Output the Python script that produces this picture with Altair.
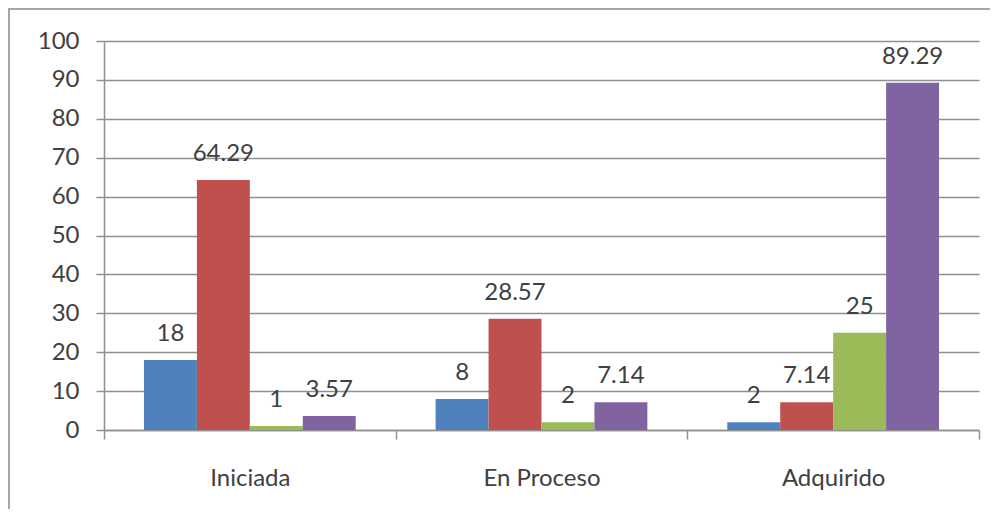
import altair as alt
import pandas as pd

categories = ["Iniciada", "En Proceso", "Adquirido"]
series = ["Serie 1", "Serie 2", "Serie 3", "Serie 4"]
serie1 = [18, 8, 2]
serie2 = [64.29, 28.57, 7.14]
serie3 = [1, 2, 25]
serie4 = [3.57, 7.14, 89.29]
colors = ["#4F81BD", "#C0504D", "#9BBB59", "#8064A2"]
y_ticks = list(range(0, 101, 10))

rows = []
for s, vals in zip(series, [serie1, serie2, serie3, serie4]):
    for c, v in zip(categories, vals):
        rows.append({"categoria": c, "serie": s, "valor": v, "etiqueta": f"{v:g}"})
df = pd.DataFrame(rows)

GRAY = "#909090"
TEXT = "#404040"
FONT = "Lato"
W, H = 875, 389

x_enc = alt.X("categoria:N", sort=categories, title=None,
              scale=alt.Scale(paddingInner=0, paddingOuter=0),
              axis=alt.Axis(labelAngle=0, tickBand="extent", tickSize=9,
                            tickColor=GRAY, domainColor=GRAY, labelPadding=27,
                            tickWidth=1.5, domainWidth=1.5,
                            labelFontSize=24, labelFont=FONT, labelColor=TEXT,
                            grid=False))
xo_enc = alt.XOffset("serie:N", sort=series,
                     scale=alt.Scale(paddingInner=0, paddingOuter=0.755))
y_enc = alt.Y("valor:Q", title=None,
              scale=alt.Scale(domain=[0, 100], nice=False),
              axis=alt.Axis(values=y_ticks, tickSize=8, tickColor=GRAY,
                            domainColor=GRAY, gridColor=GRAY, grid=True,
                            tickWidth=1.5, domainWidth=1.5, gridWidth=1.5,
                            labelPadding=17, labelFontSize=24, labelFont=FONT,
                            labelColor=TEXT))

base = alt.Chart(df)
bars = base.mark_bar().encode(
    x=x_enc, xOffset=xo_enc, y=y_enc,
    color=alt.Color("serie:N", sort=series,
                    scale=alt.Scale(domain=series, range=colors), legend=None),
)
labels = base.mark_text(baseline="alphabetic", dy=-19, fontSize=24,
                        font=FONT, color=TEXT).encode(
    x=x_enc, xOffset=xo_enc, y=y_enc, text="etiqueta:N",
)

frame = alt.Chart(pd.DataFrame({"f": [0]})).mark_rect(
    fill="transparent", stroke="#a6a6a6", strokeWidth=2
).encode(x=alt.value(-95), x2=alt.value(W + 60), y=alt.value(-32),
         y2=alt.value(H + 200))

chart = alt.layer(frame, bars, labels).properties(
    width=W, height=H,
    autosize=alt.AutoSizeParams(type="none"),
    padding={"left": 96, "top": 33, "right": 11, "bottom": 79},
).configure_view(stroke=None)

chart.save("out.html", embed_options={"renderer": "svg", "actions": False})
